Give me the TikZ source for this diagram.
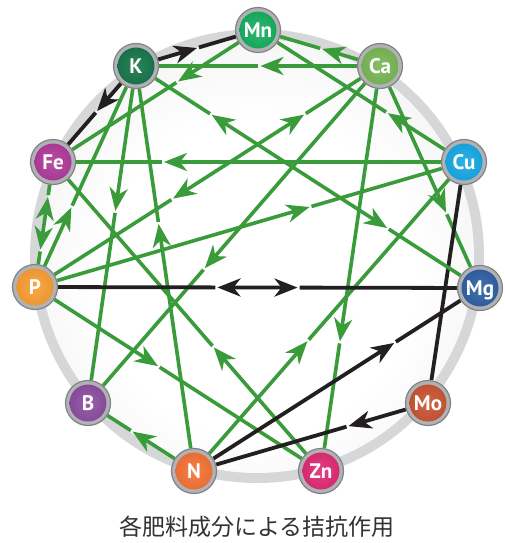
\documentclass[tikz,border=0pt]{standalone}
\usepackage{fontspec}
\setmainfont{PT Sans}
\newfontfamily\cjkfont{Noto Sans CJK JP}
\usetikzlibrary{arrows.meta,calc}
\definecolor{grn}{RGB}{58,155,58}
\definecolor{blk}{RGB}{35,31,32}
\definecolor{capgray}{RGB}{50,50,50}
\definecolor{discband}{RGB}{214,215,217}
\definecolor{discedge}{RGB}{222,223,225}
\definecolor{ringfill}{RGB}{176,178,181}
\definecolor{ringedge}{RGB}{128,130,133}
\definecolor{cMn}{RGB}{0,166,81}
\definecolor{cK}{RGB}{0,104,56}
\definecolor{cCa}{RGB}{108,176,70}
\definecolor{cFe}{RGB}{168,40,145}
\definecolor{cCu}{RGB}{0,160,226}
\definecolor{cP}{RGB}{247,148,30}
\definecolor{cMg}{RGB}{28,80,155}
\definecolor{cB}{RGB}{128,60,150}
\definecolor{cMo}{RGB}{195,68,30}
\definecolor{cN}{RGB}{242,101,34}
\definecolor{cZn}{RGB}{220,22,102}
\colorlet{nodeinner}{white}
\colorlet{nodeouter}{black}
\pgfdeclareradialshading[nodeinner,nodeouter]{ballshade}{\pgfpoint{0bp}{0bp}}{color(0bp)=(nodeinner);color(50bp)=(nodeouter)}
\pgfdeclareradialshading{discshade}{\pgfpoint{0bp}{-4bp}}{color(0bp)=(white);color(18bp)=(white);color(50bp)=(discedge)}
\pgfdeclarelayer{bg}
\pgfdeclarelayer{lines}
\pgfsetlayers{bg,lines,main}
\tikzset{
  arw/.tip={Stealth[length=23pt,width=18pt,inset=7pt]},
  ringnode/.style={circle,minimum size=45pt,inner sep=0pt,fill=ringfill,draw=ringedge,line width=1.2pt},
  elemball/.style={circle,minimum size=37pt,inner sep=0pt,shading=ballshade,
    /utils/exec={\colorlet{nodeinner}{#1!82!white}\colorlet{nodeouter}{#1!90!black}},
    text=white,font=\bfseries\fontsize{21}{21}\selectfont,text height=14.7pt,text depth=0pt},
  gline/.style={line width=3.6pt,draw=grn},
  bline/.style={line width=3.8pt,draw=blk}
}
\newcommand\antone[4][gline]{%
  \coordinate (tt) at ($(#2.center)!#4!(#3.center)$);
  \draw[#1,-{arw}] (#2) -- (tt);
  \draw[#1] ($(tt)!2pt!(#3.center)$) -- (#3);
}
\newcommand\antboth[5][gline]{%
  \coordinate (ta) at ($(#2.center)!#4!(#3.center)$);
  \coordinate (tb) at ($(#2.center)!#5!(#3.center)$);
  \draw[#1] (#2) -- ($(ta)!2pt!(#2.center)$);
  \draw[#1,{arw}-{arw}] (ta) -- (tb);
  \draw[#1] ($(tb)!2pt!(#3.center)$) -- (#3);
}
\begin{document}
\begin{tikzpicture}[x=1pt,y=-1pt]
\useasboundingbox (0,0) rectangle (505,543);
\begin{pgfonlayer}{bg}
\fill[white] (0,0) rectangle (505,543);
\fill[discband] (257,256) circle (227);
\shade[shading=discshade] (257,256) circle (217);
\end{pgfonlayer}
% element nodes
\foreach \nm/\xx/\yy in {Mn/258/30,K/136/66,Ca/380/66,Fe/53/162,Cu/464/162,P/35/287,Mg/480/288,B/88/403,Mo/428/403,N/194/471,Zn/321/471}{
  \node[ringnode] (\nm) at (\xx,\yy) {};
  \node[elemball=c\nm] (\nm l) at (\xx,\yy) {\nm};
}
\node[font=\cjkfont\fontsize{23}{23}\selectfont,text=capgray] (cap) at (257,527) {各肥料成分による拮抗作用};
\begin{pgfonlayer}{lines}
\antone{Ca}{K}{0.49}
\antone{Ca}{Mn}{0.475}
\antone[bline]{K}{Mn}{0.5}
\antone[bline]{K}{Fe}{0.47}
\antone{Mn}{Fe}{0.39}
\antone{Cu}{Mn}{0.37}
\antone{Ca}{Mg}{0.66}
\antone{P}{K}{0.36}
\antone{K}{B}{0.43}
\antone{N}{K}{0.61}
\antone{Ca}{B}{0.60}
\antone{Ca}{Zn}{0.68}
\antone{Cu}{Fe}{0.73}
\antone{P}{Cu}{0.64}
\antone{N}{Cu}{0.42}
\antone{Zn}{Fe}{0.40}
\antone{P}{Zn}{0.43}
\antone{N}{B}{0.58}
\antone[bline]{N}{Mg}{0.70}
\antone[bline]{Mo}{N}{0.34}
\draw[bline] (Cu) -- (Mo);
\antboth[bline]{P}{Mg}{0.41}{0.59}
\antboth{Fe}{P}{0.28}{0.70}
\antboth{K}{Mg}{0.22}{0.73}
\antboth{Ca}{P}{0.22}{0.60}
\end{pgfonlayer}
\end{tikzpicture}
\end{document}
